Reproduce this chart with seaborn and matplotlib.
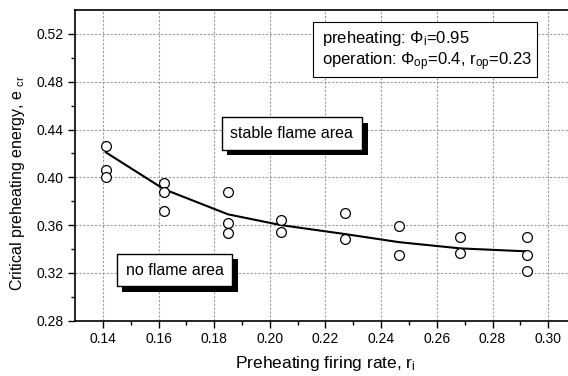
import matplotlib
matplotlib.use("Agg")
import matplotlib.pyplot as plt
import matplotlib.patheffects as pe
from matplotlib.patches import Rectangle
import seaborn as sns
import pandas as pd

# measured points: preheating firing rate vs critical preheating energy
firing_rate = [0.141, 0.141, 0.141,
               0.162, 0.162, 0.162,
               0.185, 0.185, 0.185,
               0.204, 0.204,
               0.227, 0.227,
               0.2465, 0.2465,
               0.2685, 0.2685,
               0.2925, 0.2925, 0.2925]
critical_energy = [0.426, 0.406, 0.400,
                   0.395, 0.388, 0.372,
                   0.388, 0.362, 0.353,
                   0.364, 0.354,
                   0.370, 0.348,
                   0.359, 0.335,
                   0.350, 0.337,
                   0.350, 0.335, 0.3215]

# fitted boundary curve
fit_rate = [0.141, 0.162, 0.185, 0.204, 0.227, 0.2465, 0.2685, 0.2925]
fit_energy = [0.421, 0.390, 0.369, 0.360, 0.3525, 0.3457, 0.3405, 0.338]

x_ticks = [0.14, 0.16, 0.18, 0.20, 0.22, 0.24, 0.26, 0.28, 0.30]
y_ticks = [0.28, 0.32, 0.36, 0.40, 0.44, 0.48, 0.52]

sns.set_style("ticks")
plt.rcParams["font.family"] = ["Liberation Sans", "DejaVu Sans"]
plt.rcParams["mathtext.fontset"] = "custom"
plt.rcParams["mathtext.rm"] = "Liberation Sans"
plt.rcParams["mathtext.it"] = "Liberation Sans:italic"
plt.rcParams["mathtext.bf"] = "Liberation Sans:bold"
for key in ["text.color", "axes.labelcolor", "xtick.color", "ytick.color",
            "xtick.labelcolor", "ytick.labelcolor"]:
    plt.rcParams[key] = "black"

points = pd.DataFrame({"rate": firing_rate, "energy": critical_energy})
fit = pd.DataFrame({"rate": fit_rate, "energy": fit_energy})

W, H = 568, 376
fig = plt.figure(figsize=(W / 100, H / 100), dpi=100)
ax = fig.add_axes([75 / W, 1 - 320.7 / H, 501 / W, 310.7 / H])

sns.lineplot(data=fit, x="rate", y="energy", ax=ax, color="black", lw=1.5,
             sort=True, zorder=3)
sns.scatterplot(data=points, x="rate", y="energy", ax=ax, marker="o",
                s=50, facecolor="white", edgecolor="black", linewidth=0.9,
                zorder=4)

ax.set_xlim(0.13, 0.31)
ax.set_ylim(0.28, 0.54)
ax.set_xticks(x_ticks)
ax.set_xticklabels([f"{v:.2f}" for v in x_ticks])
ax.set_yticks(y_ticks)
ax.set_yticklabels([f"{v:.2f}" for v in y_ticks])
ax.set_xticks([0.15, 0.17, 0.19, 0.21, 0.23, 0.25, 0.27, 0.29], minor=True)
ax.set_yticks([0.30, 0.34, 0.38, 0.42, 0.46, 0.50], minor=True)
ax.tick_params(which="major", direction="out", length=5, width=1,
               labelsize=10, color="black", labelcolor="black", pad=3)
ax.tick_params(which="minor", direction="out", length=3, width=1,
               color="black")
for side in ["left", "bottom", "top"]:
    ax.spines[side].set_linewidth(1.2)
    ax.spines[side].set_color("black")
ax.spines["right"].set_visible(False)
ax.grid(True, which="major", color="#9a9a9a", lw=0.8, ls=(0, (2, 1.5)))
ax.set_axisbelow(True)

ax.set_xlabel(r"Preheating firing rate, r$_{\rm i}$", fontsize=12.5,
              labelpad=6, color="black")
ax.set_ylabel(r"Critical preheating energy, e $_{\rm cr}$", fontsize=11.5,
              color="black")
ax.yaxis.set_label_coords(-48 / 501, (320.7 - 183) / 310.7)

# operating-condition box
fig.patches.append(Rectangle((313 / W, 1 - 77 / H), 224 / W, 55 / H,
                             transform=fig.transFigure, fc="white",
                             ec="black", lw=0.8, zorder=6))
fig.text(322 / W, 1 - 39 / H, r"preheating: $\Phi_{\rm i}$=0.95",
         fontsize=12, va="center", ha="left", zorder=7, color="black")
fig.text(322 / W, 1 - 62 / H,
         r"operation: $\Phi_{\rm op}$=0.4, r$_{\rm op}$=0.23",
         fontsize=12, va="center", ha="left", zorder=7, color="black")

# region labels in boxes with solid drop shadows
shadow = [pe.withSimplePatchShadow(offset=(4, -4), shadow_rgbFace="black",
                                   alpha=1.0)]
for x, y, s in [(0.2079, 0.4367, "stable flame area"),
                (0.1658, 0.3223, "no flame area")]:
    t = ax.text(x, y, s, fontsize=11.5, ha="center", va="center", zorder=6,
                color="black",
                bbox=dict(boxstyle="square,pad=0.55", fc="white", ec="black",
                          lw=1))
    t.get_bbox_patch().set_path_effects(shadow)

fig.savefig("out.png", dpi=100)
